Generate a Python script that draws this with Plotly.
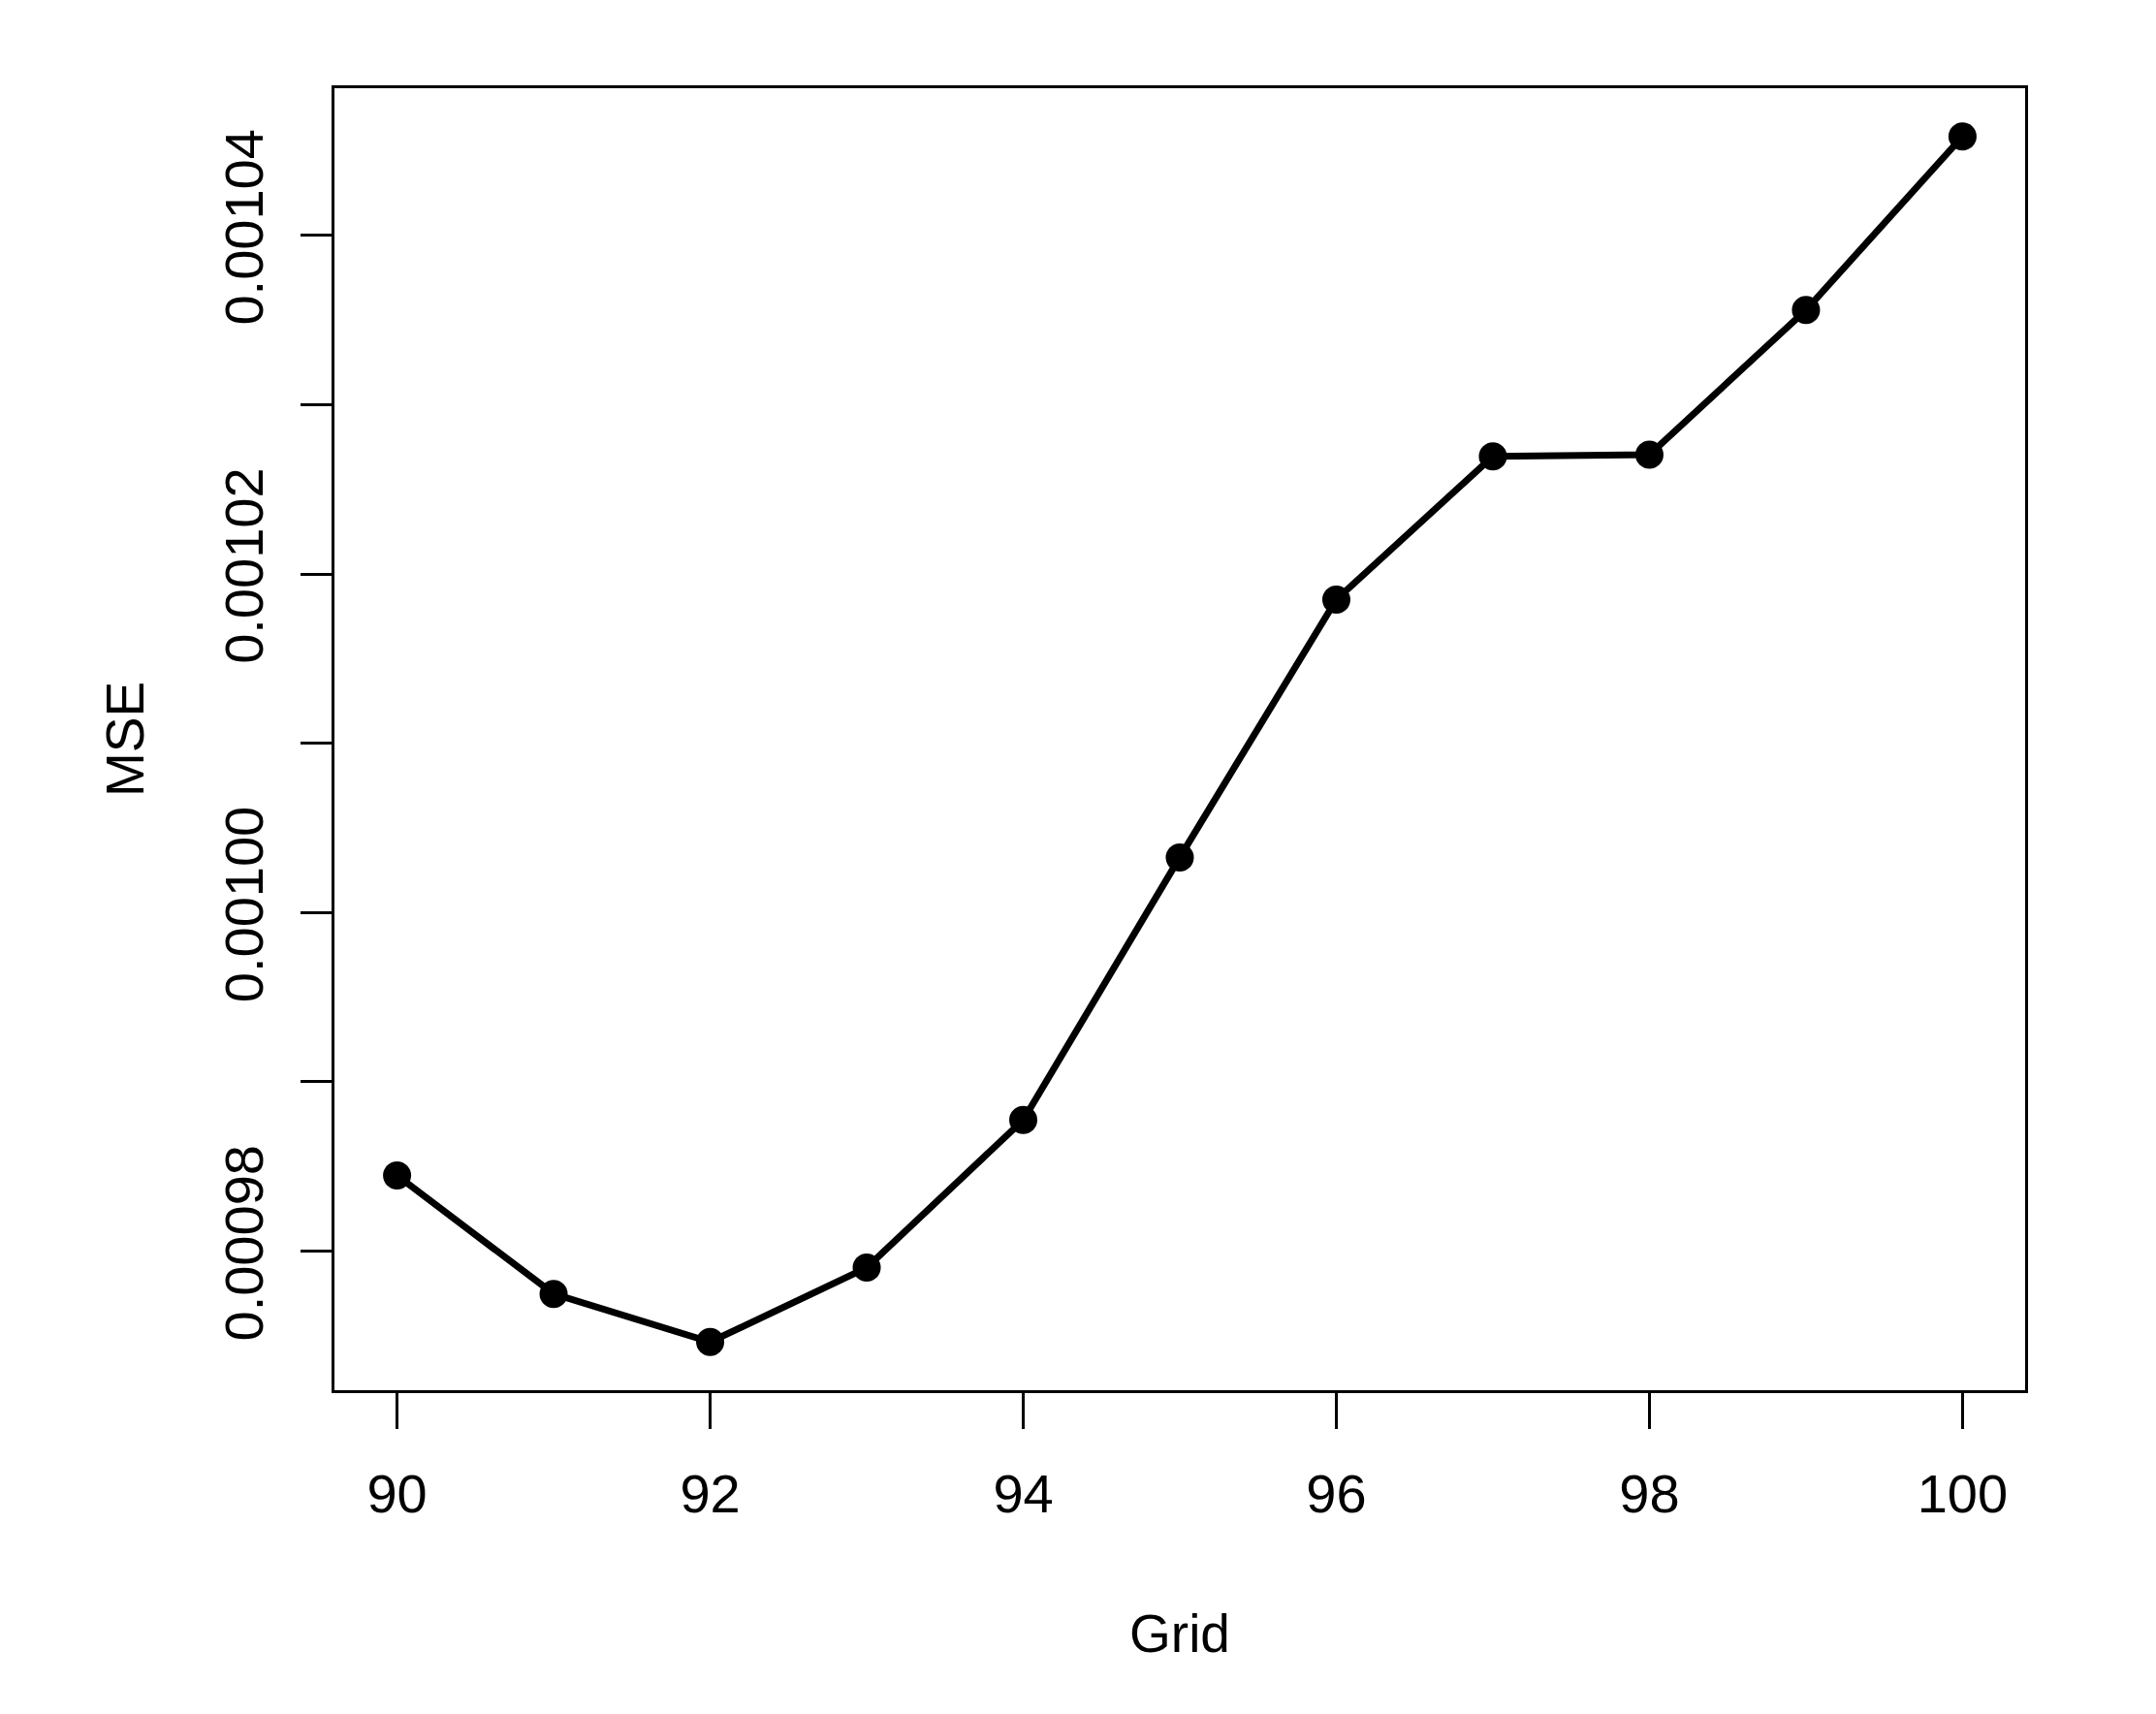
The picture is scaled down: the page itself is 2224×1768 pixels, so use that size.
import plotly.graph_objects as go

grid = [90, 91, 92, 93, 94, 95, 96, 97, 98, 99, 100]
mse = [0.00098447, 0.00097748, 0.00097464, 0.00097903, 0.00098775, 0.00100326,
       0.00101849, 0.00102695, 0.00102704, 0.00103559, 0.00104584]

x_tickvals = [90, 92, 94, 96, 98, 100]
x_ticktext = ["90", "92", "94", "96", "98", "100"]
y_tickvals = [0.00098, 0.00099, 0.00100, 0.00101, 0.00102, 0.00103, 0.00104]
y_ticktext = ["0.00098", "", "0.00100", "", "0.00102", "", "0.00104"]

# R-style 4% axis extension
def ext(vals):
    lo, hi = min(vals), max(vals)
    d = (hi - lo) * 0.04
    return [lo - d, hi + d]

fig = go.Figure()
fig.add_trace(go.Scatter(
    x=grid, y=mse, mode="lines+markers",
    line=dict(color="black", width=7),
    marker=dict(color="black", size=29),
    showlegend=False,
))

narrow = "Liberation Sans Narrow, Arial Narrow, Liberation Sans, Arial, sans-serif"
regular = "Liberation Sans, Arial, Helvetica, sans-serif"

fig.update_layout(
    width=2216, height=1760,
    margin=dict(l=337, r=135, t=83, b=334),
    paper_bgcolor="white", plot_bgcolor="white",
    xaxis=dict(
        range=ext(grid), tickvals=x_tickvals, ticktext=x_ticktext,
        showgrid=False, zeroline=False,
        showline=True, mirror=True, linecolor="black", linewidth=3,
        ticks="outside", ticklen=37, tickwidth=3, tickcolor="black",
        ticklabelstandoff=19,
        tickfont=dict(family=narrow, size=56, color="black"),
        title=dict(text="Grid", font=dict(family=narrow, size=55, color="black"), standoff=95),
    ),
    yaxis=dict(
        range=ext(mse), tickvals=y_tickvals, ticktext=y_ticktext,
        showgrid=False, zeroline=False,
        showline=True, mirror=True, linecolor="black", linewidth=3,
        ticks="outside", ticklen=32, tickwidth=3, tickcolor="black",
        tickangle=-90, ticklabelstandoff=17,
        tickfont=dict(family=regular, size=56, color="black"),
        title=dict(text="MSE", font=dict(family=regular, size=55, color="black"), standoff=54),
    ),
)

fig.write_html("out.html")
